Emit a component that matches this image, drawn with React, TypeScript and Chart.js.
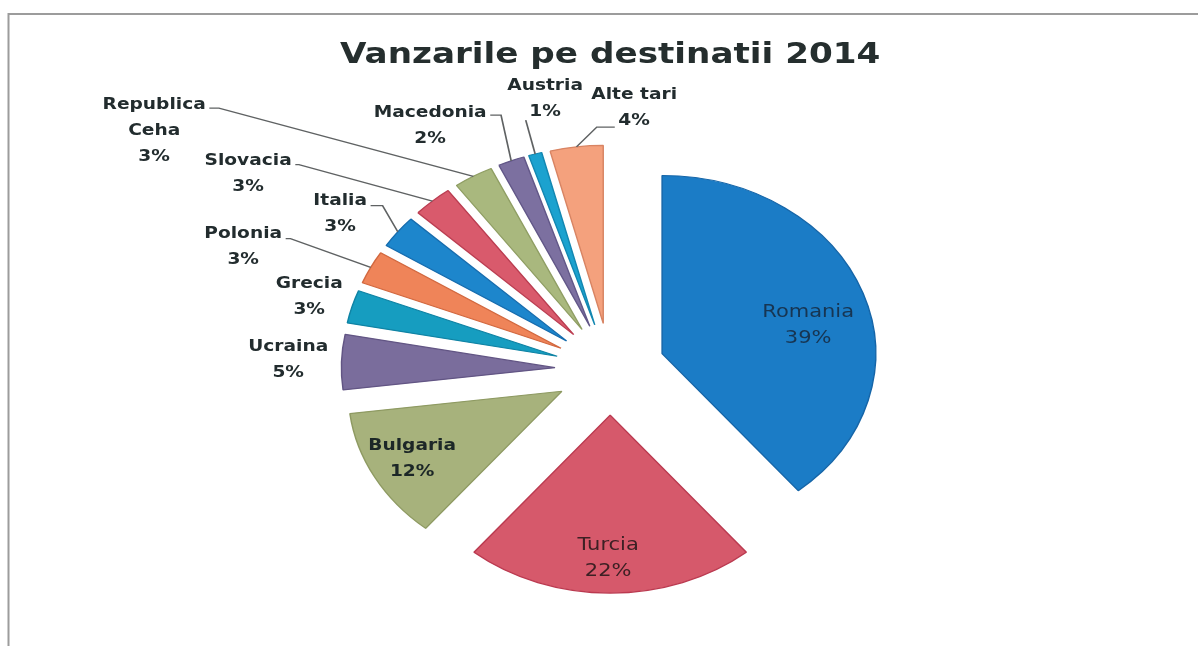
import React, { useEffect, useRef } from 'react';
import { Chart, registerables } from 'chart.js';

Chart.register(...registerables);

// ---------- data ----------
const TITLE = 'Vanzarile pe destinatii 2014';
const CATEGORIES = [
  'Romania', 'Turcia', 'Bulgaria', 'Ucraina', 'Grecia', 'Polonia',
  'Italia', 'Slovacia', 'Republica Ceha', 'Macedonia', 'Austria', 'Alte tari',
];
const LABEL_LINES = [
  ['Romania'], ['Turcia'], ['Bulgaria'], ['Ucraina'], ['Grecia'], ['Polonia'],
  ['Italia'], ['Slovacia'], ['Republica', 'Ceha'], ['Macedonia'], ['Austria'], ['Alte tari'],
];
const SHARES = [39, 22, 12, 5, 3, 3, 3, 3, 3, 2, 1, 4];

// ---------- styles ----------
const COLORS = [
  '#1b7cc6', '#d6596b', '#a7b27c', '#7a6d9c', '#169dc0', '#ef8459',
  '#1d86cc', '#d95a6c', '#a9b87e', '#7c70a0', '#1ba2cf', '#f4a17d',
];
const BORDERS = [
  '#1565a8', '#bb3a50', '#8e9a62', '#625584', '#0f83a4', '#d2683f',
  '#166cae', '#bb3d51', '#8f9e63', '#625788', '#1387b1', '#d88463',
];
const SX = 1.2; // horizontal stretch of the original picture
const CANVAS_W = 1198;
const CANVAS_H = 646;
const EXPLODE = 46;
const RADIUS = 178;
const LINE_H = 26;
// label block centre offsets from the pie centre (unstretched px)
const LABEL_OFFSETS = [
  [165, -44], [-1.7, 189.5], [-165, 89.5], [-268.3, -9.5], [-250.8, -72.5], [-305.8, -122.5],
  [-225, -155.5], [-301.7, -195.5], [-380, -238], [-150, -243], [-54.2, -270], [20, -261],
];
const LABEL_FONTS = [
  'normal 17.5px "DejaVu Sans"', 'normal 17.5px "DejaVu Sans"', 'bold 15.5px "DejaVu Sans"',
];
const OUTSIDE_FONT = 'bold 15.5px "DejaVu Sans"';
const LABEL_COLORS = ['#173552', '#3d2024', '#1c2727'];
const OUTSIDE_COLOR = '#222c2e';
// leader lines: side of the label, line index, vertical shift, horizontal tick length
const LEADERS: Record<number, { side: 'left' | 'right'; line: number; dy: number; h: number }> = {
  5: { side: 'right', line: 0, dy: 5, h: 4 },
  6: { side: 'right', line: 0, dy: 5, h: 10 },
  7: { side: 'right', line: 0, dy: 4, h: 3 },
  8: { side: 'right', line: 0, dy: 3, h: 8 },
  9: { side: 'right', line: 0, dy: 2, h: 9 },
  10: { side: 'left', line: 1, dy: 8, h: 0 },
  11: { side: 'left', line: 1, dy: 6, h: 15 },
};

const stretchPlugin = {
  id: 'stretchAndLabels',
  beforeDraw(chart: any) {
    const ctx = chart.ctx;
    ctx.save();
    ctx.fillStyle = '#ffffff';
    ctx.fillRect(0, 0, chart.width, chart.height);
    ctx.scale(SX, 1);
  },
  beforeDatasetDraw(chart: any, args: any) {
    const ctx = chart.ctx;
    args.meta.data.forEach((arc: any) => {
      const { startAngle, endAngle } = arc.getProps(['startAngle', 'endAngle'], true);
      const mid = (startAngle + endAngle) / 2;
      ctx.save();
      ctx.translate(Math.cos(mid) * EXPLODE, Math.sin(mid) * EXPLODE);
      arc.draw(ctx);
      ctx.restore();
    });
    return false;
  },
  afterDatasetsDraw(chart: any) {
    const ctx = chart.ctx;
    const meta = chart.getDatasetMeta(0);
    meta.data.forEach((arc: any, i: number) => {
      const { x, y, startAngle, endAngle, outerRadius } = arc.getProps(
        ['x', 'y', 'startAngle', 'endAngle', 'outerRadius'], true);
      const mid = (startAngle + endAngle) / 2;
      const [dx, dy] = LABEL_OFFSETS[i];
      const lines = [...LABEL_LINES[i], `${SHARES[i]}%`];
      ctx.save();
      ctx.font = LABEL_FONTS[i] || OUTSIDE_FONT;
      ctx.fillStyle = LABEL_COLORS[i] || OUTSIDE_COLOR;
      ctx.textAlign = 'center';
      ctx.textBaseline = 'middle';
      const cx = x + dx;
      const cy = y + dy;
      const top = cy - ((lines.length - 1) * LINE_H) / 2;
      lines.forEach((t, k) => ctx.fillText(t, cx, top + k * LINE_H));
      const ld = LEADERS[i];
      if (ld) {
        const w = ctx.measureText(lines[ld.line]).width;
        const ly = top + ld.line * LINE_H + ld.dy;
        const sx = ld.side === 'right' ? cx + w / 2 + 3 : cx - w / 2 - 3;
        const hx = ld.side === 'right' ? sx + ld.h : sx - ld.h;
        const ex = x + Math.cos(mid) * (EXPLODE + outerRadius);
        const ey = y + Math.sin(mid) * (EXPLODE + outerRadius);
        ctx.strokeStyle = '#5f6263';
        ctx.lineWidth = 1.4;
        ctx.beginPath();
        ctx.moveTo(sx, ly);
        ctx.lineTo(hx, ly);
        ctx.lineTo(ex, ey);
        ctx.stroke();
      }
      ctx.restore();
    });
  },
  afterDraw(chart: any) {
    const ctx = chart.ctx;
    ctx.restore();
    ctx.save();
    ctx.strokeStyle = '#9c9c9c';
    ctx.lineWidth = 2;
    ctx.beginPath();
    ctx.moveTo(8.5, CANVAS_H);
    ctx.lineTo(8.5, 14);
    ctx.lineTo(CANVAS_W, 14);
    ctx.stroke();
    ctx.restore();
  },
};

export default function App() {
  const ref = useRef<HTMLCanvasElement | null>(null);
  useEffect(() => {
    if (!ref.current) return;
    const innerW = CANVAS_W / SX;
    const chart = new Chart(ref.current, {
      type: 'pie',
      data: {
        labels: CATEGORIES,
        datasets: [
          {
            data: SHARES,
            backgroundColor: COLORS,
            borderColor: BORDERS,
            borderWidth: 1.2,
            radius: RADIUS,
            offset: 0,
          } as any,
        ],
      },
      options: {
        responsive: false,
        animation: false,
        devicePixelRatio: 1,
        layout: {
          padding: { left: 18.6, right: CANVAS_W - innerW, top: 0, bottom: 0 },
        },
        plugins: {
          legend: { display: false },
          tooltip: { enabled: false },
          title: {
            display: true,
            text: TITLE,
            color: '#252e2e',
            font: { family: '"DejaVu Sans"', size: 28.5, weight: 'bold' },
            padding: { top: 38, bottom: 20 },
          },
        },
      } as any,
      plugins: [stretchPlugin],
    });
    return () => chart.destroy();
  }, []);
  return (
    <div style={{ position: 'absolute', left: 0, top: 0, width: CANVAS_W, height: CANVAS_H }}>
      <canvas ref={ref} width={CANVAS_W} height={CANVAS_H} />
    </div>
  );
}
